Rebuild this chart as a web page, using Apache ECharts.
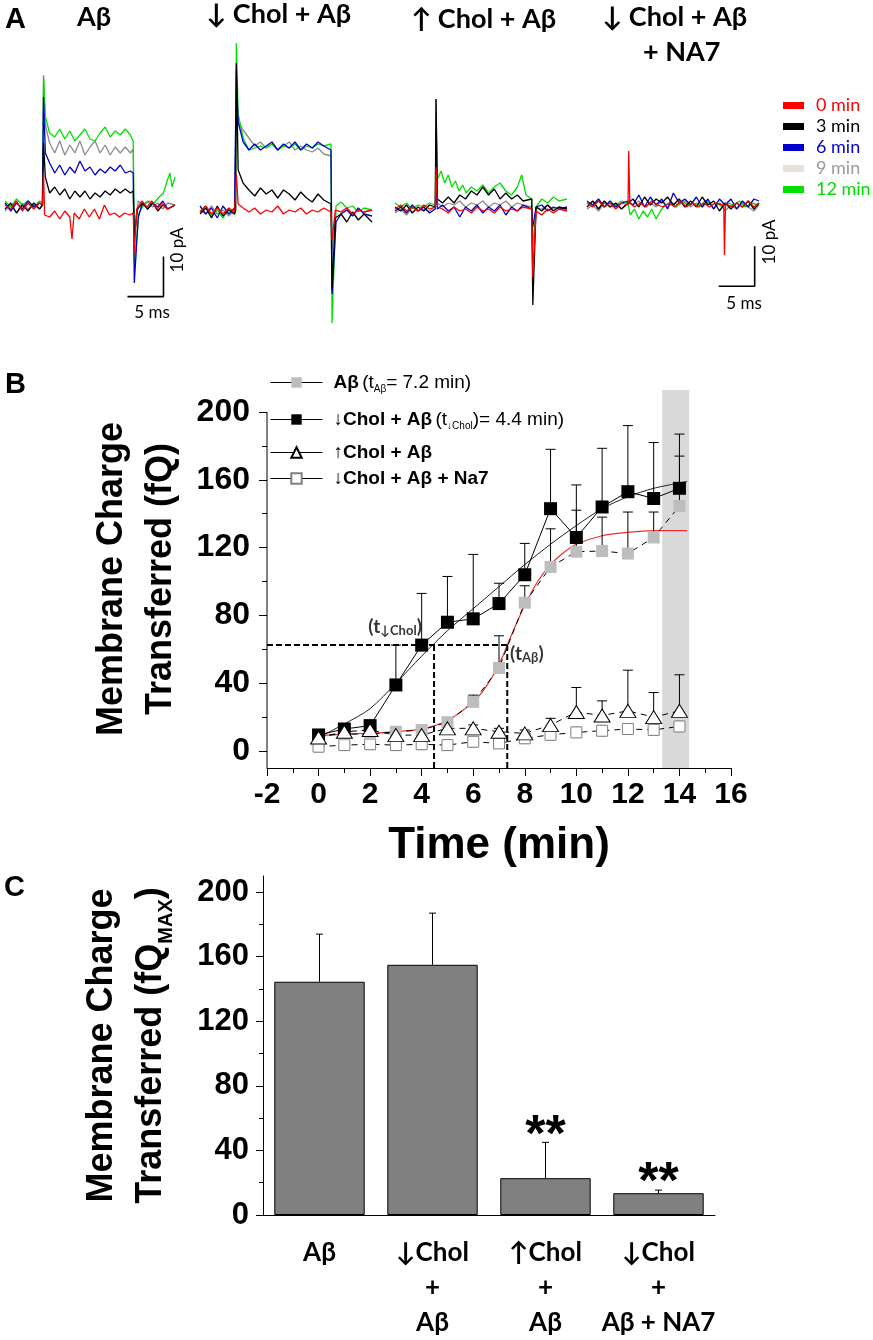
<!DOCTYPE html>
<html>
<head>
<meta charset="utf-8">
<script src="https://cdn.jsdelivr.net/npm/echarts@6.0.0/dist/echarts.min.js"></script>
<style>
  html, body { margin: 0; padding: 0; background: #fff; }
  #main { width: 873px; height: 1340px; }
</style>
</head>
<body>
<div id="main"></div>
<script>
// ---------- panel A : current traces, [ms, pA] ----------
const traceNames = ['0 min', '3 min', '6 min', '9 min', '12 min'];
const traceColors = ['#ff0000', '#000000', '#0000cc', '#8c8c8c', '#00e000'];
const panelTitles = ['Aβ', '↓ Chol + Aβ', '↑ Chol + Aβ', '↓ Chol + Aβ'];

const trAb0 = [[0,0],[0.8,-1],[1.6,1],[2.4,-1.5],[3.2,0.5],[4,-1],[4.8,0.5],[5.2,0],[5.35,8],[5.5,-2.5],[6.2,-3],[6.9,-1.5],[7.6,-3.5],[8.3,-1.5],[9,-3],[9.3,-8.5],[9.6,-2],[10.3,-3.5],[11,-1],[11.7,-3],[12.4,-1],[13.1,-3.5],[13.8,0],[14.5,-2.5],[15.2,-2],[15.9,-3],[16.6,-2],[17.3,-2.5],[17.8,-2],[17.95,-12],[18.3,-1],[19,1],[19.7,-0.5],[20.4,1],[21.1,-1],[21.8,0.5],[22.5,-1],[23.6,0]];
const trAb3 = [[0,-1],[0.8,0.5],[1.6,-2],[2.4,0],[3.2,-1.5],[4,0.5],[4.8,-1],[5.2,0],[5.35,15.5],[5.6,7],[6.2,3],[6.9,4.5],[7.6,2.5],[8.3,4],[9,1.5],[9.7,3.5],[10.4,2],[11.1,3.5],[11.8,1.5],[12.5,3],[13.2,2],[13.9,3.5],[14.6,2.5],[15.3,4],[16,3],[16.7,4],[17.4,3],[17.8,3.5],[17.95,-8],[18.4,-1],[19.1,0.5],[19.8,-1],[20.5,0.5],[21.2,-1.5],[21.9,0],[22.6,-1],[23.6,0]];
const trAb6 = [[0,0.5],[0.8,-1.5],[1.6,0.5],[2.4,-1],[3.2,1],[4,-0.5],[4.8,0.5],[5.2,0],[5.35,27],[5.6,13],[6.2,10.5],[6.9,8],[7.6,10],[8.3,7.5],[9,9.5],[9.7,8],[10.4,11],[11.1,8.5],[11.8,9.5],[12.5,7.5],[13.2,9],[13.9,8],[14.6,9.5],[15.3,8.5],[16,10],[16.7,8],[17.4,8.5],[17.8,8],[17.95,-19.5],[18.5,-3],[19.1,0.5],[19.8,-1],[20.5,0.5],[21.2,-0.5],[21.9,1],[22.6,-1],[23.6,0]];
const trAb9 = [[0,-1.5],[0.8,0],[1.6,-2],[2.4,0.5],[3.2,-1],[4,0],[4.8,-1],[5.2,0],[5.35,32.5],[5.6,20],[6.2,15.5],[6.9,13],[7.6,16],[8.3,12.5],[9,15],[9.7,13],[10.4,16],[11.1,12.5],[11.8,14.5],[12.5,16],[13.2,13],[13.9,15],[14.6,12.5],[15.3,14.5],[16,13],[16.7,14.5],[17.4,13],[17.8,14],[17.95,-6],[18.5,1],[19.1,0],[19.8,1],[20.5,-0.5],[21.2,0.5],[21.9,-1],[22.6,0.5],[23.6,0]];
const trAb12 = [[0,1],[0.8,-0.5],[1.6,1.5],[2.4,0],[3.2,1],[4,-0.5],[4.8,1],[5.2,0.5],[5.35,32],[5.6,22],[6.2,18],[6.9,17],[7.6,19],[8.3,16.5],[9,18.5],[9.7,16],[10.4,17.5],[11.1,19],[11.8,16.5],[12.5,16],[13.2,18],[13.9,19.5],[14.6,17],[15.3,18.5],[16,17.5],[16.7,19],[17.4,17.5],[17.8,16],[17.95,-14.5],[18.6,-2],[19.3,0],[20,1],[20.7,0.5],[21.4,2],[22,3],[22.5,6],[22.9,8],[23.2,4.5],[23.6,7]];

const trLo0 = [[0,-0.5],[0.8,1],[1.6,-1],[2.4,0.5],[3.2,-1],[4,0.5],[4.8,-0.5],[4.95,0],[5.05,9],[5.3,1.5],[6,0.5],[6.8,-0.5],[7.6,0.5],[8.4,-1],[9.2,0],[10,-0.5],[10.8,1],[11.6,-1],[12.4,0],[13.2,-0.5],[14,0.5],[14.8,-1],[15.6,0],[16.4,-0.5],[17.2,0.5],[18.2,-0.5],[18.35,-7.5],[18.8,0],[19.6,-0.5],[20.4,0.5],[21.2,-1],[22,0],[22.8,-0.5],[23.9,0]];
const trLo3 = [[0,-1],[0.8,0.5],[1.6,-2],[2.4,1],[3.2,-1.5],[4,0],[4.8,-1],[4.95,0],[5.05,36.7],[5.3,10],[6,6.7],[6.8,5],[7.6,3.5],[8.4,5.5],[9.2,4],[10,5],[10.8,3],[11.6,5],[12.4,4],[13.2,2.5],[14,4.5],[14.8,3],[15.6,2],[16.4,4],[17.2,2.5],[18.2,1.5],[18.35,-20],[18.8,-2],[19.6,-1],[20.4,-3],[21.2,-0.5],[22,-2.5],[22.8,-1],[23.9,-3]];
const trLo6 = [[0,1],[0.8,-1],[1.6,0.5],[2.4,-2],[3.2,1],[4,-1],[4.8,0.5],[4.95,0],[5.05,35],[5.3,22],[6,17],[6.8,15],[7.6,16.5],[8.4,15],[9.2,16],[10,17],[10.8,15],[11.6,16.5],[12.4,15.5],[13.2,17],[14,15],[14.8,16.5],[15.6,15.5],[16.4,17],[17.2,16],[18.2,15],[18.35,-21],[18.9,-3],[19.6,-1],[20.4,0],[21.2,-1.5],[22,0.5],[22.8,-1],[23.9,-1.5]];
const trLo9 = [[0,0],[0.8,-1],[1.6,1],[2.4,-1],[3.2,0],[4,-1.5],[4.8,0],[4.95,0],[5.05,30],[5.3,22],[6,20],[6.8,18],[7.6,16],[8.4,17],[9.2,15.5],[10,16.5],[10.8,15],[11.6,16],[12.4,17],[13.2,15],[14,16],[14.8,15],[15.6,14.5],[16.4,15.5],[17.2,14],[18.2,13.5],[18.35,-10],[18.9,0],[19.6,-0.5],[20.4,0.5],[21.2,-1],[22,0],[22.8,-0.5],[23.9,0]];
const trLo12 = [[0,-0.5],[0.8,1],[1.6,-1.5],[2.4,0],[3.2,-2],[4,0.5],[4.8,-1],[4.95,0],[5.05,41.7],[5.3,24],[6,18],[6.8,15],[7.6,15.5],[8.4,16],[9.2,15.5],[10,16.5],[10.8,15],[11.6,16],[12.4,15.5],[13.2,16.5],[14,15],[14.8,16],[15.6,15.5],[16.4,16.5],[17.2,16],[18.2,16.5],[18.35,-28.3],[18.9,1],[19.6,2],[20.4,0.5],[21.2,1],[22,-0.5],[22.8,0.5],[23.9,0]];

const trHi0 = [[0,-0.5],[0.8,0.5],[1.6,-1],[2.4,0],[3.2,-1],[4,0.5],[4.8,-0.5],[5.6,0],[5.7,10],[5.9,0],[6.6,-0.5],[7.4,-1.5],[8.2,0],[9,-1],[9.8,-0.5],[10.6,-1.5],[11.4,0],[12.2,-1],[13,-0.5],[13.8,-1.5],[14.6,0],[15.4,-1],[16.2,-0.5],[17,-1],[17.8,0],[19,-0.5],[19.15,-17.5],[19.6,-1],[20.4,-2],[21.2,-0.5],[22,-1.5],[22.8,-0.5],[23.9,-1]];
const trHi3 = [[0,0],[0.8,-1],[1.6,0.5],[2.4,-1.5],[3.2,0],[4,-1],[4.8,0.5],[5.6,0],[5.7,27],[5.9,2],[6.6,1],[7.4,2.5],[8.2,1],[9,3],[9.8,2],[10.6,4],[11.4,3],[12.2,5],[13,3],[13.8,4.5],[14.6,2],[15.4,3.5],[16.2,2],[17,3],[17.8,1.5],[19,2],[19.15,-24.5],[19.6,0],[20.4,-1],[21.2,0.5],[22,-1],[22.8,0],[23.9,-0.5]];
const trHi6 = [[0,-1],[0.8,0],[1.6,-1.5],[2.4,0.5],[3.2,-1],[4,0],[4.8,-1.5],[5.6,-0.5],[5.7,4],[5.9,-0.5],[6.6,0.5],[7.4,-1],[8.2,0],[9,-2.5],[9.8,0],[10.6,-1],[11.4,0.5],[12.2,-1.5],[13,0],[13.8,-1],[14.6,0.5],[15.4,-2],[16.2,0],[17,-1],[17.8,0.5],[19,-0.5],[19.15,-5],[19.6,0],[20.4,0.5],[21.2,-1],[22,0],[22.8,-0.5],[23.9,0]];
const trHi9 = [[0,-1.5],[0.8,-0.5],[1.6,-2],[2.4,0],[3.2,-1],[4,-0.5],[4.8,-1],[5.6,0],[5.7,27],[5.9,1],[6.6,0],[7.4,1],[8.2,0.5],[9,1.5],[9.8,0],[10.6,1],[11.4,0.5],[12.2,1.5],[13,0],[13.8,1],[14.6,0.5],[15.4,1.5],[16.2,0],[17,1],[17.8,0.5],[19,0],[19.15,-10],[19.6,0],[20.4,-0.5],[21.2,0.5],[22,-0.5],[22.8,0],[23.9,-1]];
const trHi12 = [[0,1],[0.8,0],[1.6,1],[2.4,-0.5],[3.2,0.5],[4,0],[4.8,1],[5.6,0.5],[5.7,20],[5.9,7],[6.4,9],[6.9,6],[7.4,8],[7.9,5],[8.4,6.5],[8.9,4],[9.4,5.5],[9.9,3.5],[10.6,5],[11.4,4],[12.2,5.5],[13,3.5],[13.8,5],[14.6,6],[15.4,4],[16.2,3],[17,5],[17.6,8],[18.2,3],[19,2],[19.15,-18],[19.6,0],[20.4,2],[21.2,1],[22,2.5],[22.8,1.5],[23.9,2]];

const trNa0 = [[0,0],[0.8,-1],[1.6,0.5],[2.4,-1],[3.2,0],[4,-1.5],[4.8,0],[5.7,-0.5],[5.8,13],[5.95,0],[6.6,-1],[7.4,0],[8.2,-1],[9,0.5],[9.8,-0.5],[10.6,-1],[11.4,0],[12.2,-1],[13,0.5],[13.8,-1],[14.6,0],[15.4,-1],[16.2,0],[17,-1],[17.8,0],[19,-0.5],[19.1,-13],[19.25,0],[20,-1],[20.8,0],[21.6,-1],[22.4,0.5],[23.2,-1],[23.9,0]];
const trNa3 = [[0,-1],[0.8,0.5],[1.6,-1.5],[2.4,0.5],[3.2,-1],[4,0],[4.8,-1.5],[5.7,0],[6.4,1],[7.2,-1],[8,1.5],[8.8,-0.5],[9.6,1],[10.4,0],[11.2,1.5],[12,-0.5],[12.8,1],[13.6,-1],[14.4,0.5],[15.2,-1],[16,1.5],[16.8,-0.5],[17.6,0.5],[18.4,-2],[19.2,0],[20,-1.5],[20.8,0],[21.6,-1],[22.4,0.5],[23.2,-1.5],[23.9,0]];
const trNa6 = [[0,0.5],[0.8,-0.5],[1.6,1],[2.4,-1],[3.2,0.5],[4,-1],[4.8,0],[5.7,0.5],[6.4,-0.5],[7.2,2],[8,-1],[8.8,1.5],[9.6,-0.5],[10.4,1],[11.2,-1.5],[12,2.5],[12.8,0],[13.6,1],[14.4,-0.5],[15.2,1.5],[16,-1],[16.8,1],[17.6,-1.5],[18.4,1],[19.2,-0.5],[20,1],[20.8,-1.5],[21.6,0.5],[22.4,-1],[23.2,1],[23.9,0.5]];
const trNa9 = [[0,-1.5],[0.8,-0.5],[1.6,-2],[2.4,0],[3.2,-1],[4,-0.5],[4.8,-1.5],[5.7,0],[6.4,-0.5],[7.2,0.5],[8,-1],[8.8,0],[9.6,-1],[10.4,0.5],[11.2,-1],[12,0],[12.8,-0.5],[13.6,0.5],[14.4,-1],[15.2,0],[16,-1],[16.8,0.5],[17.6,-1.5],[18.4,0],[19.2,-2],[20,-0.5],[20.8,-1.5],[21.6,0],[22.4,-1],[23.2,-2],[23.9,-0.5]];
const trNa12 = [[0,0],[0.8,-0.5],[1.6,0.5],[2.4,-1],[3.2,0],[4,-0.5],[4.8,0.5],[5.7,0],[6,-3],[6.6,-1.5],[7.2,-4],[7.8,-2],[8.4,-3.5],[9,-1.5],[9.6,-4],[10.2,-2],[10.8,-0.5],[11.6,0],[12.4,-1],[13.2,0.5],[14,-0.5],[14.8,0],[15.6,-1],[16.4,0.5],[17.2,-0.5],[18,0],[18.8,-1],[19.6,0],[20.4,-0.5],[21.2,0.5],[22,-1],[22.8,0],[23.9,-0.5]];

// scale bars: 5 ms x 10 pA, corner in panel units
const scaleMs = 5, scalePA = 10;
const scaleCorner1 = [22.0, -22.9];
const scaleCorner4 = [23.3, -20.8];

// ---------- panel B : membrane charge vs time ----------
const timeMin = [0, 1, 2, 3, 4, 5, 6, 7, 8, 9, 10, 11, 12, 13, 14];
const abMean = [9, 10, 10, 11.4, 12.4, 17, 29, 49, 87.5, 108.6, 117.6, 118, 116.5, 126, 144.5];
const abErr = [1, 1, 1, 2, 2, 2.5, 4, 19, 10, 22.5, 24.5, 20, 24.5, 15, 29.5];
const loMean = [9.5, 13, 15, 39, 62.5, 76, 78, 87, 104, 143, 126, 144, 153, 149, 155];
const loErr = [2, 3, 3, 23.5, 30.5, 27, 38, 12, 18.5, 35, 31, 34.6, 39, 33, 32];
const hiMean = [8, 11.4, 12.4, 9.4, 9.4, 13.4, 13.4, 11.4, 10.4, 15.3, 23, 21, 23.7, 20, 23.7];
const hiErr = [1, 2, 3, 2, 2, 2, 2, 2, 2, 4, 14.5, 8.6, 24, 14.5, 21.3];
const naMean = [2.6, 3.5, 4, 3.5, 4, 3.5, 5.5, 4.5, 7.5, 9.6, 11, 12, 13, 12.5, 14.5];
const naErr = [3, 3, 3, 3, 3, 3, 3, 3, 3, 3, 3, 3, 3, 3, 3];

const abFitT = [0, 1, 2, 3, 4, 5, 6, 6.5, 7, 7.5, 8, 8.5, 9, 9.5, 10, 11, 12, 13, 14.3];
const abFitV = [9, 10, 10.5, 11.5, 13, 18, 29, 38, 51, 69, 86, 100, 110, 117, 122, 127, 129, 130, 130];
const loFitT = [0, 1, 2, 3, 4, 5, 6, 7, 8, 9, 10, 11, 12, 13, 14.3];
const loFitV = [8, 16, 25, 40, 56, 71, 84, 97, 110, 122, 133, 143, 150, 155, 159];

const halfLevel = 62.5;
const tLo = 4.48, tAb = 7.32;
const bandRange = [13.33, 14.38];
const bYTicks = [0, 40, 80, 120, 160, 200];
const bYMinor = [20, 60, 100, 140, 180];

// ---------- panel C : maximum charge ----------
const barCats = ['Aβ', '↓Chol\n+\nAβ', '↑Chol\n+\nAβ', '↓Chol\n+\nAβ + NA7'];
const barMeans = [144.5, 155, 22.8, 13.5];
const barErr = [29.5, 32, 22.2, 1.9];
const barSig = ['', '', '**', '**'];
const cYTicks = [0, 40, 80, 120, 160, 200];
const cYMinor = [20, 60, 100, 140, 180];

const AR = 'Liberation Sans';
const CAL = 'Lato, "DejaVu Sans"';

const panelTraces = [
  [trAb0, trAb3, trAb6, trAb9, trAb12],
  [trLo0, trLo3, trLo6, trLo9, trLo12],
  [trHi0, trHi3, trHi6, trHi9, trHi12],
  [trNa0, trNa3, trNa6, trNa9, trNa12]
];
const traceGrids = [
  { left: 5, top: 25, width: 170, span: 23.6 },
  { left: 200, top: 30, width: 172, span: 23.9 },
  { left: 395, top: 27, width: 172, span: 23.9 },
  { left: 587, top: 23, width: 172, span: 23.9 }
];

const chart = echarts.init(document.getElementById('main'), null, { renderer: 'canvas' });

const grids = [];
const xAxes = [];
const yAxes = [];
const series = [];

traceGrids.forEach((g, i) => {
  grids.push({ left: g.left, top: g.top, width: g.width, height: 300 });
  xAxes.push({ gridIndex: i, type: 'value', min: 0, max: g.span, show: false });
  yAxes.push({ gridIndex: i, type: 'value', min: -30, max: 45, show: false });
  // draw order: 9, 12, 6, 3, 0 min
  [3, 4, 2, 1, 0].forEach(k => {
    series.push({
      type: 'line', name: traceNames[k], xAxisIndex: i, yAxisIndex: i,
      data: panelTraces[i][k], showSymbol: false, symbol: 'none',
      lineStyle: { color: traceColors[k], width: 1.3 }, itemStyle: { color: traceColors[k] },
      silent: true, clip: false
    });
  });
});

function scaleBar(idx, corner) {
  return {
    type: 'line', xAxisIndex: idx, yAxisIndex: idx, symbol: 'none', silent: true, clip: false,
    data: [[corner[0] - scaleMs, corner[1]], corner, [corner[0], corner[1] + scalePA]],
    lineStyle: { color: '#000', width: 1.6 }
  };
}
series.push(scaleBar(0, scaleCorner1));
series.push(scaleBar(3, scaleCorner4));

// ----- panel B -----
grids.push({ left: 267, top: 390, width: 464, height: 378 });
xAxes.push({
  gridIndex: 4, type: 'value', min: -2, max: 16, interval: 2,
  axisLine: { onZero: false, lineStyle: { color: '#000', width: 1 } },
  axisTick: { length: 8, lineStyle: { color: '#000' } },
  minorTick: { show: true, splitNumber: 2, length: 5, lineStyle: { color: '#000' } },
  splitLine: { show: false }, minorSplitLine: { show: false },
  axisLabel: { fontFamily: AR, fontWeight: 'bold', fontSize: 30, color: '#000', margin: 12 },
  name: 'Time (min)', nameLocation: 'middle', nameGap: 56,
  nameTextStyle: { fontFamily: AR, fontWeight: 'bold', fontSize: 44, color: '#000' }
});
yAxes.push({
  gridIndex: 4, type: 'value', position: 'left', min: -10, max: 213,
  axisLine: { show: false, onZero: false },
  axisTick: { show: true, length: 8, customValues: bYTicks, lineStyle: { color: '#000' } },
  axisLabel: { customValues: bYTicks, fontFamily: AR, fontWeight: 'bold', fontSize: 32, color: '#000', margin: 17 },
  splitLine: { show: false },
  name: 'Membrane Charge\nTransferred (fQ)', nameLocation: 'middle', nameRotate: 90, nameGap: 80,
  nameTextStyle: { fontFamily: AR, fontWeight: 'bold', fontSize: 36, lineHeight: 49, color: '#000' }
});
yAxes.push({
  gridIndex: 4, type: 'value', position: 'left', offset: 0, min: -10, max: 213,
  axisLine: { show: false, onZero: false },
  axisTick: { show: true, length: 5, customValues: bYMinor, lineStyle: { color: '#000' } },
  axisLabel: { show: false }, splitLine: { show: false }
});

// band + fitted curves
series.push({
  type: 'line', name: 'fitAb', xAxisIndex: 4, yAxisIndex: 4, z: 2, silent: true,
  data: abFitT.map((t, i) => [t, abFitV[i]]), smooth: 0.3, symbol: 'none',
  lineStyle: { color: '#e83030', width: 1.2 },
  markArea: {
    silent: true, itemStyle: { color: '#d9d9d9' },
    data: [[{ xAxis: bandRange[0], yAxis: -10 }, { xAxis: bandRange[1], yAxis: 213 }]]
  }
});
series.push({
  type: 'line', name: 'fitLo', xAxisIndex: 4, yAxisIndex: 4, z: 2, silent: true,
  data: loFitT.map((t, i) => [t, loFitV[i]]), smooth: 0.3, symbol: 'none',
  lineStyle: { color: '#222', width: 1 }
});

// y axis line (stops at 200) and the t1/2 guides
series.push({
  type: 'line', xAxisIndex: 4, yAxisIndex: 4, z: 5, silent: true, clip: false, symbol: 'none',
  data: [[-2, -10], [-2, 200]], lineStyle: { color: '#000', width: 1 }
});
[[[-2, halfLevel], [tAb, halfLevel]], [[tLo, halfLevel], [tLo, -10]], [[tAb, halfLevel], [tAb, -10]]].forEach(seg => {
  series.push({
    type: 'line', xAxisIndex: 4, yAxisIndex: 4, z: 5, silent: true, symbol: 'none',
    data: seg, lineStyle: { color: '#000', width: 2, type: [6, 3] }
  });
});

function errBars(means, errs, both, capW, xi, yi, z) {
  return {
    type: 'custom', xAxisIndex: xi, yAxisIndex: yi, z: z, silent: true,
    data: means.map((m, i) => [xi === 4 ? timeMin[i] : i, m, errs[i]]),
    renderItem(params, api) {
      const x = api.value(0), m = api.value(1), e = api.value(2);
      const top = api.coord([x, m + e]);
      const mid = api.coord([x, m]);
      const bot = both ? api.coord([x, m - e]) : mid;
      const st = { stroke: '#000', lineWidth: 1 };
      const kids = [
        { type: 'line', shape: { x1: top[0], y1: top[1], x2: bot[0], y2: bot[1] }, style: st },
        { type: 'line', shape: { x1: top[0] - capW / 2, y1: top[1], x2: top[0] + capW / 2, y2: top[1] }, style: st }
      ];
      if (both) {
        kids.push({ type: 'line', shape: { x1: bot[0] - capW / 2, y1: bot[1], x2: bot[0] + capW / 2, y2: bot[1] }, style: st });
      }
      return { type: 'group', children: kids };
    }
  };
}

const dash = [6, 5];
series.push(errBars(naMean, naErr, true, 8, 4, 4, 3));
series.push({
  type: 'line', name: '↓Chol + Aβ + Na7', xAxisIndex: 4, yAxisIndex: 4, z: 4,
  data: timeMin.map((t, i) => [t, naMean[i]]),
  symbol: 'rect', symbolSize: 11,
  itemStyle: { color: '#fff', borderColor: '#808080', borderWidth: 1 },
  lineStyle: { color: '#000', width: 1, type: dash }
});
series.push(errBars(abMean, abErr, false, 10, 4, 4, 3));
series.push({
  type: 'line', name: 'Aβ', xAxisIndex: 4, yAxisIndex: 4, z: 4,
  data: timeMin.map((t, i) => [t, abMean[i]]),
  symbol: 'rect', symbolSize: 12,
  itemStyle: { color: '#bdbdbd' },
  lineStyle: { color: '#000', width: 1, type: dash }
});
series.push(errBars(loMean, loErr, false, 10, 4, 4, 3));
series.push({
  type: 'line', name: '↓Chol + Aβ', xAxisIndex: 4, yAxisIndex: 4, z: 4,
  data: timeMin.map((t, i) => [t, loMean[i]]),
  symbol: 'rect', symbolSize: 13,
  itemStyle: { color: '#000' },
  lineStyle: { color: '#000', width: 1 }
});
series.push(errBars(hiMean, hiErr, false, 10, 4, 4, 3));
series.push({
  type: 'line', name: '↑Chol + Aβ', xAxisIndex: 4, yAxisIndex: 4, z: 4,
  data: timeMin.map((t, i) => [t, hiMean[i]]),
  symbol: 'triangle', symbolSize: [16, 13],
  itemStyle: { color: '#fff', borderColor: '#000', borderWidth: 1 },
  lineStyle: { color: '#000', width: 1, type: dash }
});

// (t) labels next to the guides
const annotPos = [[2.97, 73.3], [8.08, 57.6]];
const annotSub = ['↓Chol', 'Aβ'];
series.push({
  type: 'scatter', xAxisIndex: 4, yAxisIndex: 4, z: 6, silent: true, symbolSize: 0,
  data: annotPos,
  label: {
    show: true, position: 'inside',
    formatter: p => '{b|(t}{s|' + annotSub[p.dataIndex] + '}{b|)}',
    rich: {
      b: { fontFamily: CAL, fontWeight: 'bold', fontSize: 19, lineHeight: 22, color: '#000' },
      s: { fontFamily: CAL, fontWeight: 'bold', fontSize: 13, lineHeight: 12, verticalAlign: 'bottom', color: '#000' }
    }
  }
});

// ----- panel C -----
grids.push({ left: 263, top: 876, width: 452, height: 341 });
xAxes.push({
  gridIndex: 5, type: 'category', data: barCats,
  axisLine: { lineStyle: { color: '#000', width: 1 } },
  axisTick: { alignWithLabel: true, length: 7, lineStyle: { color: '#000' } },
  axisLabel: { interval: 0, fontFamily: CAL, fontWeight: 'bold', fontSize: 26, lineHeight: 35, color: '#000', margin: 20 }
});
yAxes.push({
  gridIndex: 5, type: 'value', position: 'left', min: 0, max: 210,
  axisLine: { show: true, lineStyle: { color: '#000', width: 1 } },
  axisTick: { show: true, length: 7, customValues: cYTicks, lineStyle: { color: '#000' } },
  axisLabel: { customValues: cYTicks, fontFamily: AR, fontWeight: 'bold', fontSize: 31, color: '#000', margin: 14 },
  splitLine: { show: false },
  name: 'Membrane Charge\nTransferred (fQ{s|MAX})', nameLocation: 'middle', nameRotate: 90, nameGap: 87,
  nameTextStyle: {
    fontFamily: AR, fontWeight: 'bold', fontSize: 36, lineHeight: 49, color: '#000',
    rich: { s: { fontFamily: AR, fontWeight: 'bold', fontSize: 20, lineHeight: 20, verticalAlign: 'bottom', color: '#000' } }
  }
});
yAxes.push({
  gridIndex: 5, type: 'value', position: 'left', offset: 0, min: 0, max: 210,
  axisLine: { show: false },
  axisTick: { show: true, length: 4, customValues: cYMinor, lineStyle: { color: '#000' } },
  axisLabel: { show: false }, splitLine: { show: false }
});
series.push({
  type: 'bar', xAxisIndex: 5, yAxisIndex: 7, data: barMeans, barWidth: '80%', z: 2,
  itemStyle: { color: '#808080', borderColor: '#000', borderWidth: 1 }, silent: true
});
series.push(errBars(barMeans, barErr, false, 7, 5, 7, 3));
series.push({
  type: 'scatter', xAxisIndex: 5, yAxisIndex: 7, symbolSize: 0, silent: true, z: 4,
  data: barMeans.map((m, i) => [i, m + barErr[i]]),
  label: {
    show: true, position: 'top', distance: 0, offset: [0, 20],
    formatter: p => barSig[p.dataIndex],
    fontFamily: AR, fontWeight: 'bold', fontSize: 52, color: '#000',
    textBorderWidth: 0, opacity: 1
  }
});

// ----- legends -----
const bRich = {
  b: { fontFamily: AR, fontWeight: 'bold', fontSize: 19, lineHeight: 24, color: '#000' },
  n: { fontFamily: AR, fontSize: 19, lineHeight: 24, color: '#000' },
  s: { fontFamily: AR, fontSize: 10, lineHeight: 10, verticalAlign: 'bottom', color: '#000' }
};
const bLegendText = {
  'Aβ': '{b|Aβ} {n|(t}{s|Aβ}{n|= 7.2 min)}',
  '↓Chol + Aβ': '{b|↓Chol + Aβ} {n|(t}{s|↓Chol}{n|)= 4.4 min)}',
  '↑Chol + Aβ': '{b|↑Chol + Aβ}',
  '↓Chol + Aβ + Na7': '{b|↓Chol + Aβ + Na7}'
};
const bLegendTop = [373, 410, 443, 469];
const legends = Object.keys(bLegendText).map((name, i) => ({
  data: [name], left: 270, top: bLegendTop[i], orient: 'vertical', padding: 0,
  itemWidth: 52, itemHeight: 13, selectedMode: false,
  lineStyle: { type: 'solid', color: '#000', width: 1 },
  formatter: n => bLegendText[n],
  textStyle: { rich: bRich, padding: [0, 0, 0, 6] }
}));
legends.push({
  data: traceNames.map((n, k) => ({
    name: n,
    itemStyle: { color: k === 3 ? '#e6e2da' : traceColors[k] },
    textStyle: { color: k === 3 ? '#9a9a9a' : traceColors[k] }
  })),
  left: 783, top: 95, orient: 'vertical', padding: 0, icon: 'rect',
  itemWidth: 21, itemHeight: 7, itemGap: 0, selectedMode: false,
  textStyle: { fontFamily: CAL, fontSize: 18, lineHeight: 13, padding: [8, 0, 0, 7] }
});

// ----- titles -----
const tStyle = { fontFamily: CAL, fontWeight: 'bold', fontSize: 27, color: '#000' };
const letterStyle = { fontFamily: AR, fontWeight: 'bold', fontSize: 29, color: '#000' };
const titles = [
  { text: 'A', left: 5, top: 5, padding: 0, textStyle: letterStyle },
  { text: 'B', left: 5, top: 370, padding: 0, textStyle: letterStyle },
  { text: 'C', left: 4, top: 873, padding: 0, textStyle: letterStyle },
  { text: panelTitles[0], left: 77, top: 4, padding: 0, textStyle: tStyle },
  { text: panelTitles[1], left: 206, top: 1, padding: 0, textStyle: tStyle },
  { text: panelTitles[2], left: 411, top: 6, padding: 0, textStyle: tStyle },
  { text: panelTitles[3], left: 602, top: 4, padding: 0, textStyle: tStyle },
  { text: '+ NA7', left: 643, top: 39, padding: 0, textStyle: tStyle }
];

const small = { fontFamily: CAL, fontSize: 17, fill: '#000', align: 'center', verticalAlign: 'middle' };
const graphics = [
  { type: 'text', x: 178, y: 250, rotation: Math.PI / 2, style: Object.assign({ text: '10 pA' }, small) },
  { type: 'text', x: 152, y: 313, style: Object.assign({ text: '5 ms' }, small) },
  { type: 'text', x: 770, y: 242, rotation: Math.PI / 2, style: Object.assign({ text: '10 pA' }, small) },
  { type: 'text', x: 744, y: 304, style: Object.assign({ text: '5 ms' }, small) }
];

chart.setOption({
  animation: false,
  backgroundColor: '#fff',
  title: titles,
  legend: legends,
  grid: grids,
  xAxis: xAxes,
  yAxis: yAxes,
  graphic: graphics,
  series: series
});
</script>
</body>
</html>
